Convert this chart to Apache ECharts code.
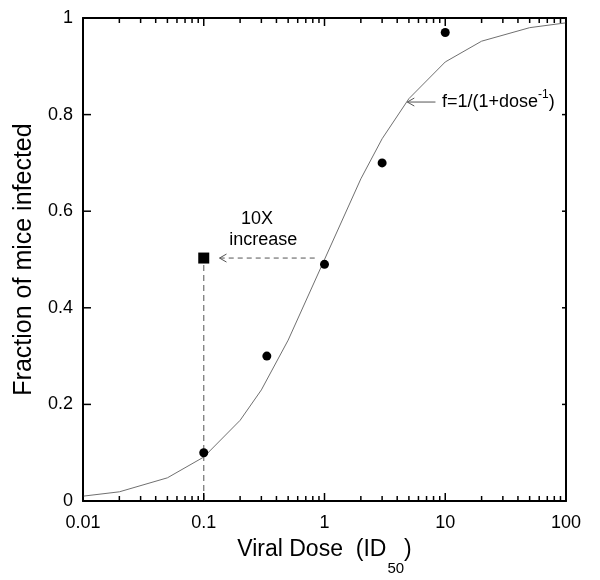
<!DOCTYPE html>
<html>
<head>
<meta charset="utf-8">
<script src="https://cdn.jsdelivr.net/npm/echarts@6/dist/echarts.min.js"></script>
<style>html,body{margin:0;padding:0;background:#fff}#c{width:600px;height:580px}</style>
</head>
<body>
<div id="c"></div>
<script>
// ---- data ----
const curveDose = [0.01, 0.02, 0.05, 0.1, 0.2, 0.3, 0.5, 1, 2, 3, 5, 10, 20, 50, 100];
const curveFrac = [0.01, 0.019, 0.048, 0.091, 0.167, 0.23, 0.333, 0.5, 0.667, 0.75, 0.833, 0.909, 0.952, 0.98, 0.99];
const obsDose = [0.1, 0.333, 1, 3, 10];
const obsFrac = [0.1, 0.3, 0.49, 0.7, 0.97];
const squareDose = [0.1];
const squareFrac = [0.503];
const dropDose = [0.1, 0.1];
const dropFrac = [0, 0.503];
const arrowStartDose = [0.83, 8.3];
const arrowEndDose = [0.135, 4.85];
const arrowFrac = [0.503, 0.826];
const arrowDashed = [1, 0];
const noteText = ['10X', 'increase', 'f=1/(1+dose{sup|-1})'];
const noteDose = [0.276, 0.311, 9.4];
const noteFrac = [0.583, 0.540, 0.826];
const noteAlign = ['center', 'center', 'left'];
const xTickLabels = ['0.01', '0.1', '1', '10', '100'];
const xTickValues = [0.01, 0.1, 1, 10, 100];
const yTickLabels = ['0', '0.2', '0.4', '0.6', '0.8', '1'];
const yTickValues = [0, 0.2, 0.4, 0.6, 0.8, 1];
const xMinorTicks = [0.02,0.03,0.04,0.05,0.06,0.07,0.08,0.09,
                     0.2,0.3,0.4,0.5,0.6,0.7,0.8,0.9,
                     2,3,4,5,6,7,8,9,
                     20,30,40,50,60,70,80,90];

const FONT = 'Liberation Sans, Arial, sans-serif';
const chart = echarts.init(document.getElementById('c'), null, {renderer: 'canvas'});

function xFmt(v) {
  for (let i = 0; i < xTickValues.length; i++) {
    if (Math.abs(Math.log10(v) - Math.log10(xTickValues[i])) < 1e-6) return xTickLabels[i];
  }
  return '';
}
function yFmt(v) {
  for (let i = 0; i < yTickValues.length; i++) {
    if (Math.abs(v - yTickValues[i]) < 1e-6) return yTickLabels[i];
  }
  return '';
}

const axisLineStyle = {color: '#000', width: 2};

const option = {
  backgroundColor: '#fff',
  animation: false,
  grid: {left: 83, right: 34, top: 18, bottom: 79, containLabel: false, outerBoundsMode: 'none'},
  xAxis: [{
    type: 'log', logBase: 10, min: 0.01, max: 100, position: 'bottom',
    axisLine: {show: true, onZero: false, lineStyle: axisLineStyle},
    axisTick: {show: false},
    axisLabel: {color: '#000', fontSize: 18, fontFamily: FONT, margin: 13, formatter: xFmt},
    splitLine: {show: false},
    name: '{a|Viral Dose  (ID}{s|50}{a|)}',
    nameLocation: 'middle', nameGap: 22,
    nameTextStyle: {
      rich: {
        a: {fontSize: 23, fontFamily: FONT, color: '#000'},
        s: {fontSize: 15, fontFamily: FONT, color: '#000', padding: [38, 0, 0, 1]}
      }
    }
  }, {
    type: 'log', logBase: 10, min: 0.01, max: 100, position: 'top',
    axisLine: {show: true, onZero: false, lineStyle: axisLineStyle},
    axisTick: {show: false},
    axisLabel: {show: false},
    splitLine: {show: false}
  }],
  yAxis: [{
    type: 'value', min: 0, max: 1, interval: 0.2, position: 'left',
    axisLine: {show: true, onZero: false, lineStyle: axisLineStyle},
    axisTick: {show: false},
    axisLabel: {color: '#000', fontSize: 18, fontFamily: FONT, margin: 10, formatter: yFmt},
    splitLine: {show: false},
    name: 'Fraction of mice infected',
    nameLocation: 'middle', nameGap: 45,
    nameTextStyle: {fontSize: 25, fontFamily: FONT, color: '#000'}
  }, {
    type: 'value', min: 0, max: 1, interval: 0.2, position: 'right',
    axisLine: {show: true, onZero: false, lineStyle: axisLineStyle},
    axisTick: {show: false},
    axisLabel: {show: false},
    splitLine: {show: false}
  }],
  series: [
    {
      type: 'line', name: 'curve', xAxisIndex: 0, yAxisIndex: 0,
      data: curveDose.map((d, i) => [d, curveFrac[i]]),
      showSymbol: false, symbol: 'none',
      lineStyle: {color: '#707070', width: 1}, z: 2
    },
    {
      type: 'line', name: 'drop', xAxisIndex: 0, yAxisIndex: 0,
      data: dropDose.map((d, i) => [d, dropFrac[i]]),
      symbol: 'none',
      lineStyle: {color: '#707070', width: 1.2, type: [6, 4]}, z: 2
    },
    {
      type: 'scatter', name: 'observed', xAxisIndex: 0, yAxisIndex: 0,
      data: obsDose.map((d, i) => [d, obsFrac[i]]),
      symbol: 'circle', symbolSize: 9,
      itemStyle: {color: '#000', opacity: 1}, z: 5
    },
    {
      type: 'scatter', name: 'square', xAxisIndex: 0, yAxisIndex: 0,
      data: squareDose.map((d, i) => [d, squareFrac[i]]),
      symbol: 'rect', symbolSize: 11,
      itemStyle: {color: '#000', opacity: 1}, z: 5
    },
    {
      type: 'custom', name: 'arrows', xAxisIndex: 0, yAxisIndex: 0,
      data: arrowStartDose.map((d, i) => [d, arrowFrac[i], arrowEndDose[i], arrowDashed[i]]),
      clip: false, silent: true,
      renderItem: function (params, api) {
        const p1 = api.coord([api.value(0), api.value(1)]);
        const p2 = api.coord([api.value(2), api.value(1)]);
        const dashed = api.value(3) === 1;
        const st = {stroke: '#555', lineWidth: 1, fill: 'none', lineDash: dashed ? [5, 4] : null};
        const hs = {stroke: '#555', lineWidth: 1, fill: 'none'};
        const dir = p2[0] < p1[0] ? 1 : -1;
        return {type: 'group', children: [
          {type: 'line', shape: {x1: p1[0], y1: p1[1], x2: p2[0], y2: p2[1]}, style: st},
          {type: 'polyline', shape: {points: [[p2[0] + dir * 7, p2[1] - 4], [p2[0], p2[1]], [p2[0] + dir * 7, p2[1] + 4]]}, style: hs}
        ]};
      }, z: 4
    },
    {
      type: 'custom', name: 'notes', xAxisIndex: 0, yAxisIndex: 0,
      data: noteDose.map((d, i) => [d, noteFrac[i], i]),
      clip: false, silent: true,
      renderItem: function (params, api) {
        const i = api.value(2);
        const p = api.coord([api.value(0), api.value(1)]);
        return {type: 'text', x: p[0], y: p[1], style: {
          text: noteText[i], fill: '#000', fontSize: 18, fontFamily: FONT,
          align: noteAlign[i], verticalAlign: 'middle',
          rich: {sup: {fontSize: 12, fontFamily: FONT, fill: '#000', padding: [0, 0, 14, 0]}}
        }};
      }, z: 6
    }
  ]
};
chart.setOption(option);

// ---- ticks, placed through the chart's own scales ----
function px(v) { return chart.convertToPixel({xAxisIndex: 0, yAxisIndex: 0}, v); }
const tickEls = [];
const tst = {stroke: '#000', lineWidth: 1.5};
function vline(x, y1, y2) { tickEls.push({type: 'line', z: 100, silent: true, shape: {x1: x, y1: y1, x2: x, y2: y2}, style: tst}); }
function hline(y, x1, x2) { tickEls.push({type: 'line', z: 100, silent: true, shape: {x1: x1, y1: y, x2: x2, y2: y}, style: tst}); }
xTickValues.forEach(v => {
  const b = px([v, 0]), t = px([v, 1]);
  vline(b[0], b[1], b[1] - 8); vline(t[0], t[1], t[1] + 8);
});
xMinorTicks.forEach(v => {
  const b = px([v, 0]), t = px([v, 1]);
  vline(b[0], b[1], b[1] - 5); vline(t[0], t[1], t[1] + 5);
});
yTickValues.forEach(v => {
  const l = px([0.01, v]), r = px([100, v]);
  hline(l[1], l[0], l[0] + 8); hline(r[1], r[0], r[0] - 4);
});
chart.setOption({graphic: {elements: tickEls}});
</script>
</body>
</html>
